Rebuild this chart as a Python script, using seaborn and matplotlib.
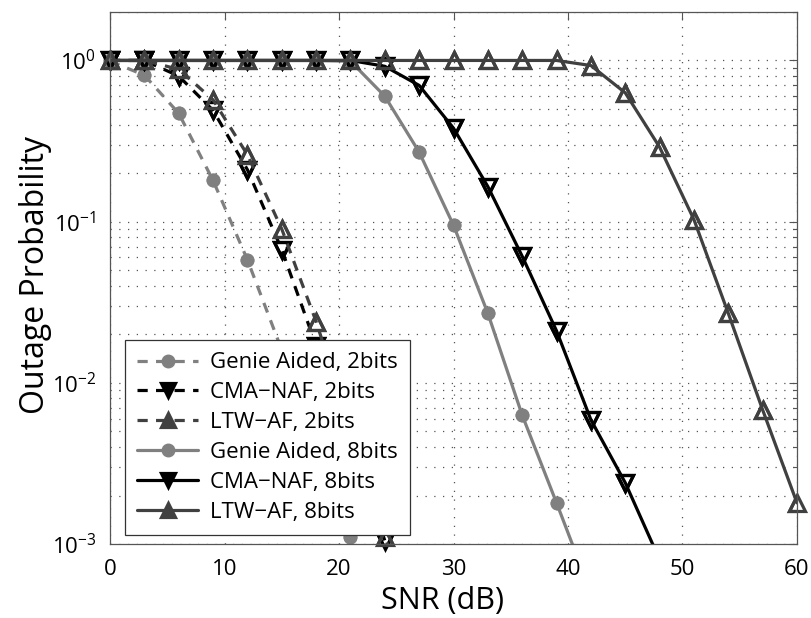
import numpy as np
import pandas as pd
import matplotlib
matplotlib.use("Agg")
import matplotlib.pyplot as plt
import seaborn as sns
from matplotlib.ticker import LogLocator, NullFormatter, FixedLocator

# ---- data ----
labels = ["Genie Aided, 2bits", "CMA\u2212NAF, 2bits", "LTW\u2212AF, 2bits",
          "Genie Aided, 8bits", "CMA\u2212NAF, 8bits", "LTW\u2212AF, 8bits"]

snr_genie_2 = [0, 3, 6, 9, 12, 15, 18, 21, 24]
out_genie_2 = [0.99, 0.81, 0.47, 0.18, 0.058, 0.016, 0.0042, 0.0011, 0.0003]

snr_cma_2 = [0, 3, 6, 9, 12, 15, 18, 21, 24, 27]
out_cma_2 = [1.0, 1.0, 0.8, 0.49, 0.21, 0.067, 0.017, 0.0043, 0.00105, 0.0003]

snr_ltw_2 = [0, 3, 6, 9, 12, 15, 18, 21, 24, 27]
out_ltw_2 = [1.0, 1.0, 0.88, 0.57, 0.26, 0.09, 0.024, 0.0052, 0.0011, 0.0003]

snr_genie_8 = [0, 3, 6, 9, 12, 15, 18, 21, 24, 27, 30, 33, 36, 39, 42]
out_genie_8 = [1.0, 1.0, 1.0, 1.0, 1.0, 1.0, 1.0, 0.99, 0.6, 0.27, 0.095,
               0.027, 0.0063, 0.0018, 0.0005]

snr_cma_8 = [0, 3, 6, 9, 12, 15, 18, 21, 24, 27, 30, 33, 36, 39, 42, 45, 48]
out_cma_8 = [1.0, 1.0, 1.0, 1.0, 1.0, 1.0, 1.0, 1.0, 0.92, 0.7, 0.38, 0.165,
             0.061, 0.021, 0.0059, 0.0024, 0.0008]

snr_ltw_8 = [0, 3, 6, 9, 12, 15, 18, 21, 24, 27, 30, 33, 36, 39, 42, 45, 48,
             51, 54, 57, 60]
out_ltw_8 = [1.0, 1.0, 1.0, 1.0, 1.0, 1.0, 1.0, 1.0, 1.0, 1.0, 1.0, 1.0, 1.0,
             1.0, 0.93, 0.63, 0.29, 0.103, 0.027, 0.0068, 0.0018]

x_ticks = [0, 10, 20, 30, 40, 50, 60]

# ---- style ----
sns.set_theme(style="white")
plt.rcParams["font.family"] = ["Open Sans", "DejaVu Sans"]
plt.rcParams["mathtext.fontset"] = "custom"
plt.rcParams["mathtext.rm"] = "Open Sans"
plt.rcParams["mathtext.it"] = "Open Sans"
plt.rcParams["mathtext.bf"] = "Open Sans"
plt.rcParams["text.color"] = "black"
plt.rcParams["axes.labelcolor"] = "black"
plt.rcParams["legend.labelcolor"] = "black"

fig = plt.figure(figsize=(8.12, 6.18), dpi=100)
ax = fig.add_axes([0.1355, 0.1197, 0.846, 0.861])

c_genie = "#808080"
c_cma = "#000000"
c_ltw = "#404040"
lw = 2.3
dash = (3.2, 2.6)
ymin, ymax = 1e-3, 2.0

series = [
    (snr_genie_2, out_genie_2, labels[0], c_genie, "o", True, True),
    (snr_cma_2, out_cma_2, labels[1], c_cma, "v", True, False),
    (snr_ltw_2, out_ltw_2, labels[2], c_ltw, "^", True, False),
    (snr_genie_8, out_genie_8, labels[3], c_genie, "o", False, True),
    (snr_cma_8, out_cma_8, labels[4], c_cma, "v", False, False),
    (snr_ltw_8, out_ltw_8, labels[5], c_ltw, "^", False, False),
]

for xs, ys, lab, col, mk, dashed, filled in series:
    mkw = dict(marker=mk, markersize=9 if mk == "o" else 12,
               mec=col, mew=1.0 if filled else 2.3,
               markerfacecolor=col if filled else "none")
    sns.lineplot(x=xs, y=ys, color=col, linewidth=lw, label=lab, ax=ax,
                 sort=False, **mkw)
    line = ax.lines[-1]
    if dashed:
        line.set_dashes(dash)
    # markers of in-range points are not clipped at the axes edge
    xin = [x for x, y in zip(xs, ys) if y >= ymin]
    yin = [y for y in ys if y >= ymin]
    sns.lineplot(x=xin, y=yin, color=col, linestyle="", ax=ax, sort=False,
                 clip_on=False, legend=False, **mkw)

ax.set_yscale("log")
ax.set_xlim(0, 60)
ax.set_ylim(ymin, ymax)
ax.xaxis.set_major_locator(FixedLocator(x_ticks))
ax.yaxis.set_major_locator(LogLocator(base=10, numticks=10))
ax.yaxis.set_minor_locator(LogLocator(base=10, subs=np.arange(2, 10), numticks=20))
ax.yaxis.set_minor_formatter(NullFormatter())

grid_kw = dict(color="#555555", linestyle=(0, (1, 6)), linewidth=0.9)
ax.grid(True, which="major", axis="both", **grid_kw)
ax.grid(True, which="minor", axis="y", **grid_kw)

ax.tick_params(axis="both", which="both", direction="in", top=True, right=True,
               colors="#555555", labelcolor="black", labelsize=16)
ax.tick_params(axis="both", which="major", length=6, width=0.8)
ax.tick_params(axis="x", which="major", pad=11)
ax.tick_params(axis="y", which="major", pad=10)
ax.tick_params(axis="y", which="minor", length=3, width=0.8)
for s in ax.spines.values():
    s.set_color("#555555")
    s.set_linewidth(0.9)

ax.set_xlabel("SNR (dB)", fontsize=22, color="black")
ax.set_ylabel("Outage Probability", fontsize=23, color="black")
ax.xaxis.set_label_coords(0.484, -0.079)
ax.yaxis.set_label_coords(-0.085, 0.505)

leg = ax.legend(loc="lower left", bbox_to_anchor=(0.0215, 0.017), borderaxespad=0,
                fontsize=16, handlelength=2.75, frameon=True, fancybox=False,
                framealpha=1, edgecolor="#333333", labelspacing=0.4,
                borderpad=0.55, handletextpad=0.55, labelcolor="black")
leg.get_frame().set_linewidth(0.9)
for h, (_, _, _, col, mk, _, _) in zip(leg.legend_handles, series):
    h.set_markerfacecolor(col)
    h.set_markersize(10 if mk != "o" else 9)

fig.canvas.draw()
# widen the legend frame on the right like the reference box
fr = leg.get_frame()
fr.set_width(fr.get_width() + 22)

fig.savefig("out.png", dpi=100)
